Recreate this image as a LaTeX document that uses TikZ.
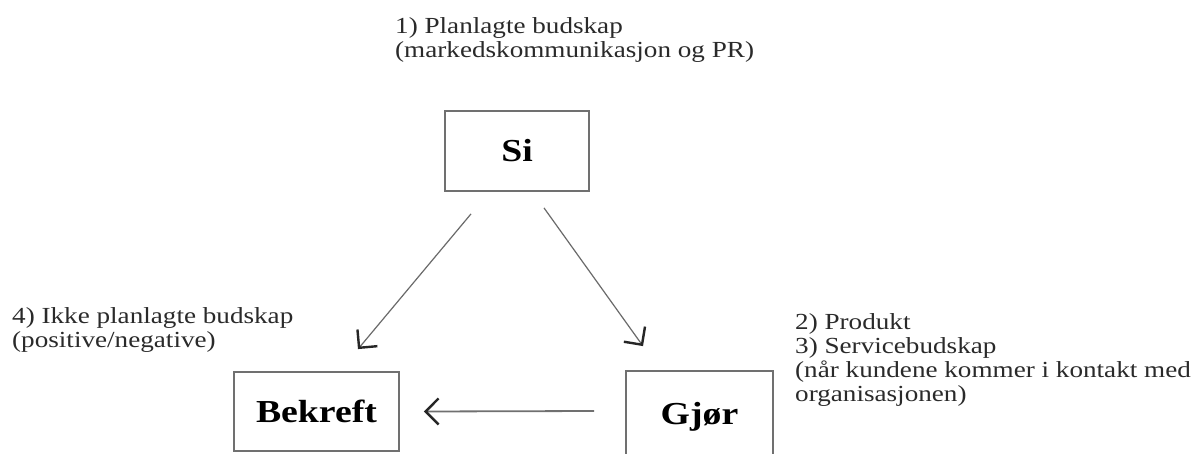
\documentclass[tikz,border=0pt]{standalone}
\usepackage{fontspec}
\setmainfont{Liberation Serif}[FakeStretch=1.18]
\usetikzlibrary{arrows.meta}
\definecolor{boxgray}{HTML}{707070}
\definecolor{linegray}{HTML}{6A6A6A}
\definecolor{txtgray}{HTML}{2A2A2A}
\begin{document}
\begin{tikzpicture}[x=1pt,y=-1pt,
  box/.style={draw=boxgray, line width=1.8pt, inner sep=0pt, text=black,
    font=\fontsize{32}{32}\selectfont\bfseries},
  lbl/.style={font=\fontsize{23}{24}\selectfont, text=txtgray, align=left,
    inner sep=0pt, anchor=base west},
  conn/.style={draw=linegray, line width=1.2pt,
    -{Straight Barb[length=13pt,width=26pt,line width=2.4pt,color=black!85]}}
]
\useasboundingbox (0,0) rectangle (1203,453);
\fill[white] (0,0) rectangle (1203,453);
\clip (0,0) rectangle (1203,453);

% boxes
\node[box, minimum width=144pt, minimum height=80pt] (si) at (517,151) {Si};
\node[box, minimum width=165pt, minimum height=79pt] (bek) at (316.5,411.5) {Bekreft};
\node[box, minimum width=147pt, minimum height=92pt] (gj) at (699.5,417) {Gjør};

% labels (anchored at the baseline of their last line)
\node[lbl] (l1) at (395,57) {1) Planlagte budskap\\(markedskommunikasjon og PR)};
\node[lbl] (l4) at (12,347) {4) Ikke planlagte budskap\\(positive/negative)};
\node[lbl] (l23) at (795,401) {2) Produkt\\3) Servicebudskap\\(når kundene kommer i kontakt med\\organisasjonen)};

% connector end points
\coordinate (a0) at ([shift={(-46,22)}]si.south);
\coordinate (a1) at ([shift={(41.5,-22)}]bek.north);
\coordinate (b0) at ([shift={(27,16)}]si.south);
\coordinate (b1) at ([shift={(-56.5,-24)}]gj.north);
\coordinate (c0) at ([shift={(-31,-6)}]gj.west);
\coordinate (c1) at ([shift={(24,0)}]bek.east);

\draw[conn] (a0) -- (a1);
\draw[conn] (b0) -- (b1);
\draw[conn, line width=1.8pt, draw=boxgray] (c0) -- (c1);
\end{tikzpicture}
\end{document}
